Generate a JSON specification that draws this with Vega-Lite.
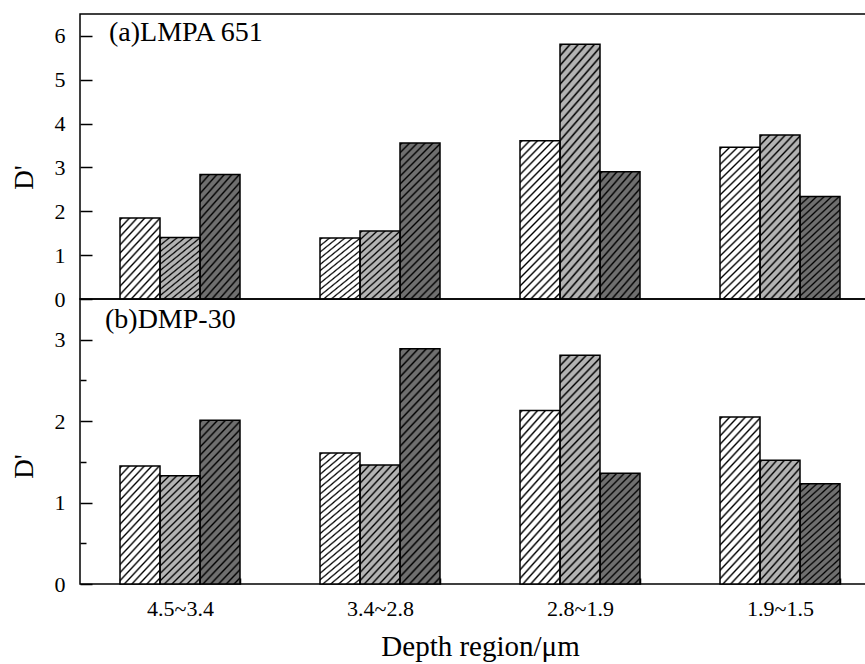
{
  "$schema": "https://vega.github.io/schema/vega-lite/v6.json",
  "padding": {"left": 9, "top": 13, "right": 0, "bottom": 0},
  "spacing": 0,
  "bounds": "flush",
  "datasets": {
    "a": [
      {"region": "4.5~3.4", "series": "1", "D": 1.85},
      {"region": "4.5~3.4", "series": "2", "D": 1.40},
      {"region": "4.5~3.4", "series": "3", "D": 2.84},
      {"region": "3.4~2.8", "series": "1", "D": 1.39},
      {"region": "3.4~2.8", "series": "2", "D": 1.55},
      {"region": "3.4~2.8", "series": "3", "D": 3.56},
      {"region": "2.8~1.9", "series": "1", "D": 3.61},
      {"region": "2.8~1.9", "series": "2", "D": 5.81},
      {"region": "2.8~1.9", "series": "3", "D": 2.90},
      {"region": "1.9~1.5", "series": "1", "D": 3.46},
      {"region": "1.9~1.5", "series": "2", "D": 3.74},
      {"region": "1.9~1.5", "series": "3", "D": 2.34}
    ],
    "b": [
      {"region": "4.5~3.4", "series": "1", "D": 1.45},
      {"region": "4.5~3.4", "series": "2", "D": 1.33},
      {"region": "4.5~3.4", "series": "3", "D": 2.01},
      {"region": "3.4~2.8", "series": "1", "D": 1.61},
      {"region": "3.4~2.8", "series": "2", "D": 1.46},
      {"region": "3.4~2.8", "series": "3", "D": 2.89},
      {"region": "2.8~1.9", "series": "1", "D": 2.13},
      {"region": "2.8~1.9", "series": "2", "D": 2.81},
      {"region": "2.8~1.9", "series": "3", "D": 1.36},
      {"region": "1.9~1.5", "series": "1", "D": 2.05},
      {"region": "1.9~1.5", "series": "2", "D": 1.52},
      {"region": "1.9~1.5", "series": "3", "D": 1.23}
    ]
  },
  "config": {
    "font": "Liberation Serif",
    "view": {"stroke": "black", "strokeWidth": 1.5},
    "axis": {"grid": false, "domain": false, "tickColor": "black", "tickWidth": 1.5, "labelColor": "black", "titleColor": "black", "labelFont": "Liberation Serif", "titleFont": "Liberation Serif", "titleFontWeight": "normal"}
  },
  "vconcat": [
    {
      "width": 800,
      "height": 285,
      "layer": [
        {
          "data": {"name": "a"},
          "mark": {"type": "bar", "strokeWidth": 0},
          "encoding": {
            "x": {"field": "region", "type": "nominal", "sort": ["4.5~3.4", "3.4~2.8", "2.8~1.9", "1.9~1.5"], "scale": {"paddingInner": 0.4, "paddingOuter": 0.2}, "axis": null},
            "xOffset": {"field": "series", "type": "nominal", "scale": {"paddingInner": 0, "paddingOuter": 0}},
            "y": {"field": "D", "type": "quantitative", "scale": {"domain": [0, 6.5], "nice": false, "zero": true},
              "axis": {"title": "D'", "values": [0, 0.5, 1, 1.5, 2, 2.5, 3, 3.5, 4, 4.5, 5, 5.5, 6],
                "labelExpr": "datum.value % 1 === 0 ? format(datum.value, 'd') : ''",
                "tickSize": {"condition": {"test": "datum.value % 1 !== 0", "value": -6}, "value": -12},
                "labelPadding": 27, "labelFontSize": 22, "titleFontSize": 27, "titleX": -42, "titleY": 163, "titleBaseline": "bottom", "titleAngle": -90}},
            "fill": {"field": "series", "type": "nominal", "scale": {"range": ["#ffffff", "#b3b3b3", "#6f6f6f"]}, "legend": null}
          }
        },
        {
          "data": {"name": "a"},
          "mark": {"type": "bar", "stroke": "black", "strokeWidth": 1.5},
          "encoding": {
            "x": {"field": "region", "type": "nominal", "sort": ["4.5~3.4", "3.4~2.8", "2.8~1.9", "1.9~1.5"]},
            "xOffset": {"field": "series", "type": "nominal"},
            "y": {"field": "D", "type": "quantitative"},
            "fill": {
              "condition": [
                {"test": "datum.D < 2.098", "value": {"gradient": "linear", "x1": 0, "y1": 0, "x2": 0.6367, "y2": 1.1938, "stops": [
                  {"offset": 0, "color": "transparent"},{"offset": 0.0167, "color": "#000"},{"offset": 0.0333, "color": "transparent"},
                  {"offset": 0.0667, "color": "transparent"},{"offset": 0.0833, "color": "#000"},{"offset": 0.1, "color": "transparent"},
                  {"offset": 0.1333, "color": "transparent"},{"offset": 0.15, "color": "#000"},{"offset": 0.1667, "color": "transparent"},
                  {"offset": 0.2, "color": "transparent"},{"offset": 0.2167, "color": "#000"},{"offset": 0.2333, "color": "transparent"},
                  {"offset": 0.2667, "color": "transparent"},{"offset": 0.2833, "color": "#000"},{"offset": 0.3, "color": "transparent"},
                  {"offset": 0.3333, "color": "transparent"},{"offset": 0.35, "color": "#000"},{"offset": 0.3667, "color": "transparent"},
                  {"offset": 0.4, "color": "transparent"},{"offset": 0.4167, "color": "#000"},{"offset": 0.4333, "color": "transparent"},
                  {"offset": 0.4667, "color": "transparent"},{"offset": 0.4833, "color": "#000"},{"offset": 0.5, "color": "transparent"},
                  {"offset": 0.5333, "color": "transparent"},{"offset": 0.55, "color": "#000"},{"offset": 0.5667, "color": "transparent"},
                  {"offset": 0.6, "color": "transparent"},{"offset": 0.6167, "color": "#000"},{"offset": 0.6333, "color": "transparent"},
                  {"offset": 0.6667, "color": "transparent"},{"offset": 0.6833, "color": "#000"},{"offset": 0.7, "color": "transparent"},
                  {"offset": 0.7333, "color": "transparent"},{"offset": 0.75, "color": "#000"},{"offset": 0.7667, "color": "transparent"},
                  {"offset": 0.8, "color": "transparent"},{"offset": 0.8167, "color": "#000"},{"offset": 0.8333, "color": "transparent"},
                  {"offset": 0.8667, "color": "transparent"},{"offset": 0.8833, "color": "#000"},{"offset": 0.9, "color": "transparent"},
                  {"offset": 0.9333, "color": "transparent"},{"offset": 0.95, "color": "#000"},{"offset": 0.9667, "color": "transparent"},
                  {"offset": 1, "color": "transparent"}]}},
                {"test": "datum.D < 2.965", "value": {"gradient": "linear", "x1": 0, "y1": 0, "x2": 0.4379, "y2": 1.2044, "stops": [
                  {"offset": 0, "color": "transparent"},{"offset": 0.0125, "color": "#000"},{"offset": 0.025, "color": "transparent"},
                  {"offset": 0.05, "color": "transparent"},{"offset": 0.0625, "color": "#000"},{"offset": 0.075, "color": "transparent"},
                  {"offset": 0.1, "color": "transparent"},{"offset": 0.1125, "color": "#000"},{"offset": 0.125, "color": "transparent"},
                  {"offset": 0.15, "color": "transparent"},{"offset": 0.1625, "color": "#000"},{"offset": 0.175, "color": "transparent"},
                  {"offset": 0.2, "color": "transparent"},{"offset": 0.2125, "color": "#000"},{"offset": 0.225, "color": "transparent"},
                  {"offset": 0.25, "color": "transparent"},{"offset": 0.2625, "color": "#000"},{"offset": 0.275, "color": "transparent"},
                  {"offset": 0.3, "color": "transparent"},{"offset": 0.3125, "color": "#000"},{"offset": 0.325, "color": "transparent"},
                  {"offset": 0.35, "color": "transparent"},{"offset": 0.3625, "color": "#000"},{"offset": 0.375, "color": "transparent"},
                  {"offset": 0.4, "color": "transparent"},{"offset": 0.4125, "color": "#000"},{"offset": 0.425, "color": "transparent"},
                  {"offset": 0.45, "color": "transparent"},{"offset": 0.4625, "color": "#000"},{"offset": 0.475, "color": "transparent"},
                  {"offset": 0.5, "color": "transparent"},{"offset": 0.5125, "color": "#000"},{"offset": 0.525, "color": "transparent"},
                  {"offset": 0.55, "color": "transparent"},{"offset": 0.5625, "color": "#000"},{"offset": 0.575, "color": "transparent"},
                  {"offset": 0.6, "color": "transparent"},{"offset": 0.6125, "color": "#000"},{"offset": 0.625, "color": "transparent"},
                  {"offset": 0.65, "color": "transparent"},{"offset": 0.6625, "color": "#000"},{"offset": 0.675, "color": "transparent"},
                  {"offset": 0.7, "color": "transparent"},{"offset": 0.7125, "color": "#000"},{"offset": 0.725, "color": "transparent"},
                  {"offset": 0.75, "color": "transparent"},{"offset": 0.7625, "color": "#000"},{"offset": 0.775, "color": "transparent"},
                  {"offset": 0.8, "color": "transparent"},{"offset": 0.8125, "color": "#000"},{"offset": 0.825, "color": "transparent"},
                  {"offset": 0.85, "color": "transparent"},{"offset": 0.8625, "color": "#000"},{"offset": 0.875, "color": "transparent"},
                  {"offset": 0.9, "color": "transparent"},{"offset": 0.9125, "color": "#000"},{"offset": 0.925, "color": "transparent"},
                  {"offset": 0.95, "color": "transparent"},{"offset": 0.9625, "color": "#000"},{"offset": 0.975, "color": "transparent"},
                  {"offset": 1, "color": "transparent"}]}},
                {"test": "datum.D < 4.22", "value": {"gradient": "linear", "x1": 0, "y1": 0, "x2": 0.3044, "y2": 1.1795, "stops": [
                  {"offset": 0, "color": "transparent"},{"offset": 0.01, "color": "#000"},{"offset": 0.02, "color": "transparent"},
                  {"offset": 0.04, "color": "transparent"},{"offset": 0.05, "color": "#000"},{"offset": 0.06, "color": "transparent"},
                  {"offset": 0.08, "color": "transparent"},{"offset": 0.09, "color": "#000"},{"offset": 0.1, "color": "transparent"},
                  {"offset": 0.12, "color": "transparent"},{"offset": 0.13, "color": "#000"},{"offset": 0.14, "color": "transparent"},
                  {"offset": 0.16, "color": "transparent"},{"offset": 0.17, "color": "#000"},{"offset": 0.18, "color": "transparent"},
                  {"offset": 0.2, "color": "transparent"},{"offset": 0.21, "color": "#000"},{"offset": 0.22, "color": "transparent"},
                  {"offset": 0.24, "color": "transparent"},{"offset": 0.25, "color": "#000"},{"offset": 0.26, "color": "transparent"},
                  {"offset": 0.28, "color": "transparent"},{"offset": 0.29, "color": "#000"},{"offset": 0.3, "color": "transparent"},
                  {"offset": 0.32, "color": "transparent"},{"offset": 0.33, "color": "#000"},{"offset": 0.34, "color": "transparent"},
                  {"offset": 0.36, "color": "transparent"},{"offset": 0.37, "color": "#000"},{"offset": 0.38, "color": "transparent"},
                  {"offset": 0.4, "color": "transparent"},{"offset": 0.41, "color": "#000"},{"offset": 0.42, "color": "transparent"},
                  {"offset": 0.44, "color": "transparent"},{"offset": 0.45, "color": "#000"},{"offset": 0.46, "color": "transparent"},
                  {"offset": 0.48, "color": "transparent"},{"offset": 0.49, "color": "#000"},{"offset": 0.5, "color": "transparent"},
                  {"offset": 0.52, "color": "transparent"},{"offset": 0.53, "color": "#000"},{"offset": 0.54, "color": "transparent"},
                  {"offset": 0.56, "color": "transparent"},{"offset": 0.57, "color": "#000"},{"offset": 0.58, "color": "transparent"},
                  {"offset": 0.6, "color": "transparent"},{"offset": 0.61, "color": "#000"},{"offset": 0.62, "color": "transparent"},
                  {"offset": 0.64, "color": "transparent"},{"offset": 0.65, "color": "#000"},{"offset": 0.66, "color": "transparent"},
                  {"offset": 0.68, "color": "transparent"},{"offset": 0.69, "color": "#000"},{"offset": 0.7, "color": "transparent"},
                  {"offset": 0.72, "color": "transparent"},{"offset": 0.73, "color": "#000"},{"offset": 0.74, "color": "transparent"},
                  {"offset": 0.76, "color": "transparent"},{"offset": 0.77, "color": "#000"},{"offset": 0.78, "color": "transparent"},
                  {"offset": 0.8, "color": "transparent"},{"offset": 0.81, "color": "#000"},{"offset": 0.82, "color": "transparent"},
                  {"offset": 0.84, "color": "transparent"},{"offset": 0.85, "color": "#000"},{"offset": 0.86, "color": "transparent"},
                  {"offset": 0.88, "color": "transparent"},{"offset": 0.89, "color": "#000"},{"offset": 0.9, "color": "transparent"},
                  {"offset": 0.92, "color": "transparent"},{"offset": 0.93, "color": "#000"},{"offset": 0.94, "color": "transparent"},
                  {"offset": 0.96, "color": "transparent"},{"offset": 0.97, "color": "#000"},{"offset": 0.98, "color": "transparent"},
                  {"offset": 1, "color": "transparent"}]}}
              ],
              "value": {"gradient": "linear", "x1": 0, "y1": 0, "x2": 0.208, "y2": 1.1439, "stops": [
                {"offset": 0, "color": "transparent"},{"offset": 0.0078, "color": "#000"},{"offset": 0.0156, "color": "transparent"},
                {"offset": 0.03125, "color": "transparent"},{"offset": 0.0391, "color": "#000"},{"offset": 0.0469, "color": "transparent"},
                {"offset": 0.0625, "color": "transparent"},{"offset": 0.0703, "color": "#000"},{"offset": 0.0781, "color": "transparent"},
                {"offset": 0.09375, "color": "transparent"},{"offset": 0.1016, "color": "#000"},{"offset": 0.1094, "color": "transparent"},
                {"offset": 0.125, "color": "transparent"},{"offset": 0.1328, "color": "#000"},{"offset": 0.1406, "color": "transparent"},
                {"offset": 0.15625, "color": "transparent"},{"offset": 0.1641, "color": "#000"},{"offset": 0.1719, "color": "transparent"},
                {"offset": 0.1875, "color": "transparent"},{"offset": 0.1953, "color": "#000"},{"offset": 0.2031, "color": "transparent"},
                {"offset": 0.21875, "color": "transparent"},{"offset": 0.2266, "color": "#000"},{"offset": 0.2344, "color": "transparent"},
                {"offset": 0.25, "color": "transparent"},{"offset": 0.2578, "color": "#000"},{"offset": 0.2656, "color": "transparent"},
                {"offset": 0.28125, "color": "transparent"},{"offset": 0.2891, "color": "#000"},{"offset": 0.2969, "color": "transparent"},
                {"offset": 0.3125, "color": "transparent"},{"offset": 0.3203, "color": "#000"},{"offset": 0.3281, "color": "transparent"},
                {"offset": 0.34375, "color": "transparent"},{"offset": 0.3516, "color": "#000"},{"offset": 0.3594, "color": "transparent"},
                {"offset": 0.375, "color": "transparent"},{"offset": 0.3828, "color": "#000"},{"offset": 0.3906, "color": "transparent"},
                {"offset": 0.40625, "color": "transparent"},{"offset": 0.4141, "color": "#000"},{"offset": 0.4219, "color": "transparent"},
                {"offset": 0.4375, "color": "transparent"},{"offset": 0.4453, "color": "#000"},{"offset": 0.4531, "color": "transparent"},
                {"offset": 0.46875, "color": "transparent"},{"offset": 0.4766, "color": "#000"},{"offset": 0.4844, "color": "transparent"},
                {"offset": 0.5, "color": "transparent"},{"offset": 0.5078, "color": "#000"},{"offset": 0.5156, "color": "transparent"},
                {"offset": 0.53125, "color": "transparent"},{"offset": 0.5391, "color": "#000"},{"offset": 0.5469, "color": "transparent"},
                {"offset": 0.5625, "color": "transparent"},{"offset": 0.5703, "color": "#000"},{"offset": 0.5781, "color": "transparent"},
                {"offset": 0.59375, "color": "transparent"},{"offset": 0.6016, "color": "#000"},{"offset": 0.6094, "color": "transparent"},
                {"offset": 0.625, "color": "transparent"},{"offset": 0.6328, "color": "#000"},{"offset": 0.6406, "color": "transparent"},
                {"offset": 0.65625, "color": "transparent"},{"offset": 0.6641, "color": "#000"},{"offset": 0.6719, "color": "transparent"},
                {"offset": 0.6875, "color": "transparent"},{"offset": 0.6953, "color": "#000"},{"offset": 0.7031, "color": "transparent"},
                {"offset": 0.71875, "color": "transparent"},{"offset": 0.7266, "color": "#000"},{"offset": 0.7344, "color": "transparent"},
                {"offset": 0.75, "color": "transparent"},{"offset": 0.7578, "color": "#000"},{"offset": 0.7656, "color": "transparent"},
                {"offset": 0.78125, "color": "transparent"},{"offset": 0.7891, "color": "#000"},{"offset": 0.7969, "color": "transparent"},
                {"offset": 0.8125, "color": "transparent"},{"offset": 0.8203, "color": "#000"},{"offset": 0.8281, "color": "transparent"},
                {"offset": 0.84375, "color": "transparent"},{"offset": 0.8516, "color": "#000"},{"offset": 0.8594, "color": "transparent"},
                {"offset": 0.875, "color": "transparent"},{"offset": 0.8828, "color": "#000"},{"offset": 0.8906, "color": "transparent"},
                {"offset": 0.90625, "color": "transparent"},{"offset": 0.9141, "color": "#000"},{"offset": 0.9219, "color": "transparent"},
                {"offset": 0.9375, "color": "transparent"},{"offset": 0.9453, "color": "#000"},{"offset": 0.9531, "color": "transparent"},
                {"offset": 0.96875, "color": "transparent"},{"offset": 0.9766, "color": "#000"},{"offset": 0.9844, "color": "transparent"},
                {"offset": 1, "color": "transparent"}]}
            }
          }
        },
        {
          "data": {"values": [{"label": "(a)LMPA 651"}]},
          "mark": {"type": "text", "align": "left", "baseline": "alphabetic", "dx": -11, "fontSize": 28, "font": "Liberation Serif", "color": "black"},
          "encoding": {
            "x": {"datum": "4.5~3.4", "bandPosition": 0},
            "y": {"datum": 5.88},
            "text": {"field": "label"}
          }
        }
      ]
    },
    {
      "width": 800,
      "height": 285,
      "layer": [
        {
          "data": {"name": "b"},
          "mark": {"type": "bar", "strokeWidth": 0},
          "encoding": {
            "x": {"field": "region", "type": "nominal", "sort": ["4.5~3.4", "3.4~2.8", "2.8~1.9", "1.9~1.5"], "scale": {"paddingInner": 0.4, "paddingOuter": 0.2},
              "axis": {"title": "Depth region/μm", "labelAngle": 0, "tickBand": "extent", "tickSize": -6, "labelPadding": 20, "labelFontSize": 22, "titleFontSize": 29, "titlePadding": 13}},
            "xOffset": {"field": "series", "type": "nominal", "scale": {"paddingInner": 0, "paddingOuter": 0}},
            "y": {"field": "D", "type": "quantitative", "scale": {"domain": [0, 3.5], "nice": false, "zero": true},
              "axis": {"title": "D'", "values": [0, 0.5, 1, 1.5, 2, 2.5, 3],
                "labelExpr": "datum.value % 1 === 0 ? format(datum.value, 'd') : ''",
                "tickSize": {"condition": {"test": "datum.value % 1 !== 0", "value": -6}, "value": -12},
                "labelPadding": 27, "labelFontSize": 22, "titleFontSize": 27, "titleX": -42, "titleY": 167, "titleBaseline": "bottom", "titleAngle": -90}},
            "fill": {"field": "series", "type": "nominal", "scale": {"range": ["#ffffff", "#b3b3b3", "#6f6f6f"]}, "legend": null}
          }
        },
        {
          "data": {"name": "b"},
          "mark": {"type": "bar", "stroke": "black", "strokeWidth": 1.5},
          "encoding": {
            "x": {"field": "region", "type": "nominal", "sort": ["4.5~3.4", "3.4~2.8", "2.8~1.9", "1.9~1.5"]},
            "xOffset": {"field": "series", "type": "nominal"},
            "y": {"field": "D", "type": "quantitative"},
            "fill": {
              "condition": [
                {"test": "datum.D < 1.597", "value": {"gradient": "linear", "x1": 0, "y1": 0, "x2": 0.4379, "y2": 1.2044, "stops": [
                  {"offset": 0, "color": "transparent"},{"offset": 0.0125, "color": "#000"},{"offset": 0.025, "color": "transparent"},
                  {"offset": 0.05, "color": "transparent"},{"offset": 0.0625, "color": "#000"},{"offset": 0.075, "color": "transparent"},
                  {"offset": 0.1, "color": "transparent"},{"offset": 0.1125, "color": "#000"},{"offset": 0.125, "color": "transparent"},
                  {"offset": 0.15, "color": "transparent"},{"offset": 0.1625, "color": "#000"},{"offset": 0.175, "color": "transparent"},
                  {"offset": 0.2, "color": "transparent"},{"offset": 0.2125, "color": "#000"},{"offset": 0.225, "color": "transparent"},
                  {"offset": 0.25, "color": "transparent"},{"offset": 0.2625, "color": "#000"},{"offset": 0.275, "color": "transparent"},
                  {"offset": 0.3, "color": "transparent"},{"offset": 0.3125, "color": "#000"},{"offset": 0.325, "color": "transparent"},
                  {"offset": 0.35, "color": "transparent"},{"offset": 0.3625, "color": "#000"},{"offset": 0.375, "color": "transparent"},
                  {"offset": 0.4, "color": "transparent"},{"offset": 0.4125, "color": "#000"},{"offset": 0.425, "color": "transparent"},
                  {"offset": 0.45, "color": "transparent"},{"offset": 0.4625, "color": "#000"},{"offset": 0.475, "color": "transparent"},
                  {"offset": 0.5, "color": "transparent"},{"offset": 0.5125, "color": "#000"},{"offset": 0.525, "color": "transparent"},
                  {"offset": 0.55, "color": "transparent"},{"offset": 0.5625, "color": "#000"},{"offset": 0.575, "color": "transparent"},
                  {"offset": 0.6, "color": "transparent"},{"offset": 0.6125, "color": "#000"},{"offset": 0.625, "color": "transparent"},
                  {"offset": 0.65, "color": "transparent"},{"offset": 0.6625, "color": "#000"},{"offset": 0.675, "color": "transparent"},
                  {"offset": 0.7, "color": "transparent"},{"offset": 0.7125, "color": "#000"},{"offset": 0.725, "color": "transparent"},
                  {"offset": 0.75, "color": "transparent"},{"offset": 0.7625, "color": "#000"},{"offset": 0.775, "color": "transparent"},
                  {"offset": 0.8, "color": "transparent"},{"offset": 0.8125, "color": "#000"},{"offset": 0.825, "color": "transparent"},
                  {"offset": 0.85, "color": "transparent"},{"offset": 0.8625, "color": "#000"},{"offset": 0.875, "color": "transparent"},
                  {"offset": 0.9, "color": "transparent"},{"offset": 0.9125, "color": "#000"},{"offset": 0.925, "color": "transparent"},
                  {"offset": 0.95, "color": "transparent"},{"offset": 0.9625, "color": "#000"},{"offset": 0.975, "color": "transparent"},
                  {"offset": 1, "color": "transparent"}]}},
                {"test": "datum.D < 2.273", "value": {"gradient": "linear", "x1": 0, "y1": 0, "x2": 0.3044, "y2": 1.1795, "stops": [
                  {"offset": 0, "color": "transparent"},{"offset": 0.01, "color": "#000"},{"offset": 0.02, "color": "transparent"},
                  {"offset": 0.04, "color": "transparent"},{"offset": 0.05, "color": "#000"},{"offset": 0.06, "color": "transparent"},
                  {"offset": 0.08, "color": "transparent"},{"offset": 0.09, "color": "#000"},{"offset": 0.1, "color": "transparent"},
                  {"offset": 0.12, "color": "transparent"},{"offset": 0.13, "color": "#000"},{"offset": 0.14, "color": "transparent"},
                  {"offset": 0.16, "color": "transparent"},{"offset": 0.17, "color": "#000"},{"offset": 0.18, "color": "transparent"},
                  {"offset": 0.2, "color": "transparent"},{"offset": 0.21, "color": "#000"},{"offset": 0.22, "color": "transparent"},
                  {"offset": 0.24, "color": "transparent"},{"offset": 0.25, "color": "#000"},{"offset": 0.26, "color": "transparent"},
                  {"offset": 0.28, "color": "transparent"},{"offset": 0.29, "color": "#000"},{"offset": 0.3, "color": "transparent"},
                  {"offset": 0.32, "color": "transparent"},{"offset": 0.33, "color": "#000"},{"offset": 0.34, "color": "transparent"},
                  {"offset": 0.36, "color": "transparent"},{"offset": 0.37, "color": "#000"},{"offset": 0.38, "color": "transparent"},
                  {"offset": 0.4, "color": "transparent"},{"offset": 0.41, "color": "#000"},{"offset": 0.42, "color": "transparent"},
                  {"offset": 0.44, "color": "transparent"},{"offset": 0.45, "color": "#000"},{"offset": 0.46, "color": "transparent"},
                  {"offset": 0.48, "color": "transparent"},{"offset": 0.49, "color": "#000"},{"offset": 0.5, "color": "transparent"},
                  {"offset": 0.52, "color": "transparent"},{"offset": 0.53, "color": "#000"},{"offset": 0.54, "color": "transparent"},
                  {"offset": 0.56, "color": "transparent"},{"offset": 0.57, "color": "#000"},{"offset": 0.58, "color": "transparent"},
                  {"offset": 0.6, "color": "transparent"},{"offset": 0.61, "color": "#000"},{"offset": 0.62, "color": "transparent"},
                  {"offset": 0.64, "color": "transparent"},{"offset": 0.65, "color": "#000"},{"offset": 0.66, "color": "transparent"},
                  {"offset": 0.68, "color": "transparent"},{"offset": 0.69, "color": "#000"},{"offset": 0.7, "color": "transparent"},
                  {"offset": 0.72, "color": "transparent"},{"offset": 0.73, "color": "#000"},{"offset": 0.74, "color": "transparent"},
                  {"offset": 0.76, "color": "transparent"},{"offset": 0.77, "color": "#000"},{"offset": 0.78, "color": "transparent"},
                  {"offset": 0.8, "color": "transparent"},{"offset": 0.81, "color": "#000"},{"offset": 0.82, "color": "transparent"},
                  {"offset": 0.84, "color": "transparent"},{"offset": 0.85, "color": "#000"},{"offset": 0.86, "color": "transparent"},
                  {"offset": 0.88, "color": "transparent"},{"offset": 0.89, "color": "#000"},{"offset": 0.9, "color": "transparent"},
                  {"offset": 0.92, "color": "transparent"},{"offset": 0.93, "color": "#000"},{"offset": 0.94, "color": "transparent"},
                  {"offset": 0.96, "color": "transparent"},{"offset": 0.97, "color": "#000"},{"offset": 0.98, "color": "transparent"},
                  {"offset": 1, "color": "transparent"}]}}
              ],
              "value": {"gradient": "linear", "x1": 0, "y1": 0, "x2": 0.208, "y2": 1.1439, "stops": [
                {"offset": 0, "color": "transparent"},{"offset": 0.0078, "color": "#000"},{"offset": 0.0156, "color": "transparent"},
                {"offset": 0.03125, "color": "transparent"},{"offset": 0.0391, "color": "#000"},{"offset": 0.0469, "color": "transparent"},
                {"offset": 0.0625, "color": "transparent"},{"offset": 0.0703, "color": "#000"},{"offset": 0.0781, "color": "transparent"},
                {"offset": 0.09375, "color": "transparent"},{"offset": 0.1016, "color": "#000"},{"offset": 0.1094, "color": "transparent"},
                {"offset": 0.125, "color": "transparent"},{"offset": 0.1328, "color": "#000"},{"offset": 0.1406, "color": "transparent"},
                {"offset": 0.15625, "color": "transparent"},{"offset": 0.1641, "color": "#000"},{"offset": 0.1719, "color": "transparent"},
                {"offset": 0.1875, "color": "transparent"},{"offset": 0.1953, "color": "#000"},{"offset": 0.2031, "color": "transparent"},
                {"offset": 0.21875, "color": "transparent"},{"offset": 0.2266, "color": "#000"},{"offset": 0.2344, "color": "transparent"},
                {"offset": 0.25, "color": "transparent"},{"offset": 0.2578, "color": "#000"},{"offset": 0.2656, "color": "transparent"},
                {"offset": 0.28125, "color": "transparent"},{"offset": 0.2891, "color": "#000"},{"offset": 0.2969, "color": "transparent"},
                {"offset": 0.3125, "color": "transparent"},{"offset": 0.3203, "color": "#000"},{"offset": 0.3281, "color": "transparent"},
                {"offset": 0.34375, "color": "transparent"},{"offset": 0.3516, "color": "#000"},{"offset": 0.3594, "color": "transparent"},
                {"offset": 0.375, "color": "transparent"},{"offset": 0.3828, "color": "#000"},{"offset": 0.3906, "color": "transparent"},
                {"offset": 0.40625, "color": "transparent"},{"offset": 0.4141, "color": "#000"},{"offset": 0.4219, "color": "transparent"},
                {"offset": 0.4375, "color": "transparent"},{"offset": 0.4453, "color": "#000"},{"offset": 0.4531, "color": "transparent"},
                {"offset": 0.46875, "color": "transparent"},{"offset": 0.4766, "color": "#000"},{"offset": 0.4844, "color": "transparent"},
                {"offset": 0.5, "color": "transparent"},{"offset": 0.5078, "color": "#000"},{"offset": 0.5156, "color": "transparent"},
                {"offset": 0.53125, "color": "transparent"},{"offset": 0.5391, "color": "#000"},{"offset": 0.5469, "color": "transparent"},
                {"offset": 0.5625, "color": "transparent"},{"offset": 0.5703, "color": "#000"},{"offset": 0.5781, "color": "transparent"},
                {"offset": 0.59375, "color": "transparent"},{"offset": 0.6016, "color": "#000"},{"offset": 0.6094, "color": "transparent"},
                {"offset": 0.625, "color": "transparent"},{"offset": 0.6328, "color": "#000"},{"offset": 0.6406, "color": "transparent"},
                {"offset": 0.65625, "color": "transparent"},{"offset": 0.6641, "color": "#000"},{"offset": 0.6719, "color": "transparent"},
                {"offset": 0.6875, "color": "transparent"},{"offset": 0.6953, "color": "#000"},{"offset": 0.7031, "color": "transparent"},
                {"offset": 0.71875, "color": "transparent"},{"offset": 0.7266, "color": "#000"},{"offset": 0.7344, "color": "transparent"},
                {"offset": 0.75, "color": "transparent"},{"offset": 0.7578, "color": "#000"},{"offset": 0.7656, "color": "transparent"},
                {"offset": 0.78125, "color": "transparent"},{"offset": 0.7891, "color": "#000"},{"offset": 0.7969, "color": "transparent"},
                {"offset": 0.8125, "color": "transparent"},{"offset": 0.8203, "color": "#000"},{"offset": 0.8281, "color": "transparent"},
                {"offset": 0.84375, "color": "transparent"},{"offset": 0.8516, "color": "#000"},{"offset": 0.8594, "color": "transparent"},
                {"offset": 0.875, "color": "transparent"},{"offset": 0.8828, "color": "#000"},{"offset": 0.8906, "color": "transparent"},
                {"offset": 0.90625, "color": "transparent"},{"offset": 0.9141, "color": "#000"},{"offset": 0.9219, "color": "transparent"},
                {"offset": 0.9375, "color": "transparent"},{"offset": 0.9453, "color": "#000"},{"offset": 0.9531, "color": "transparent"},
                {"offset": 0.96875, "color": "transparent"},{"offset": 0.9766, "color": "#000"},{"offset": 0.9844, "color": "transparent"},
                {"offset": 1, "color": "transparent"}]}
            }
          }
        },
        {
          "data": {"values": [{"label": "(b)DMP-30"}]},
          "mark": {"type": "text", "align": "left", "baseline": "alphabetic", "dx": -15, "fontSize": 28, "font": "Liberation Serif", "color": "black"},
          "encoding": {
            "x": {"datum": "4.5~3.4", "bandPosition": 0},
            "y": {"datum": 3.145},
            "text": {"field": "label"}
          }
        }
      ]
    }
  ]
}
